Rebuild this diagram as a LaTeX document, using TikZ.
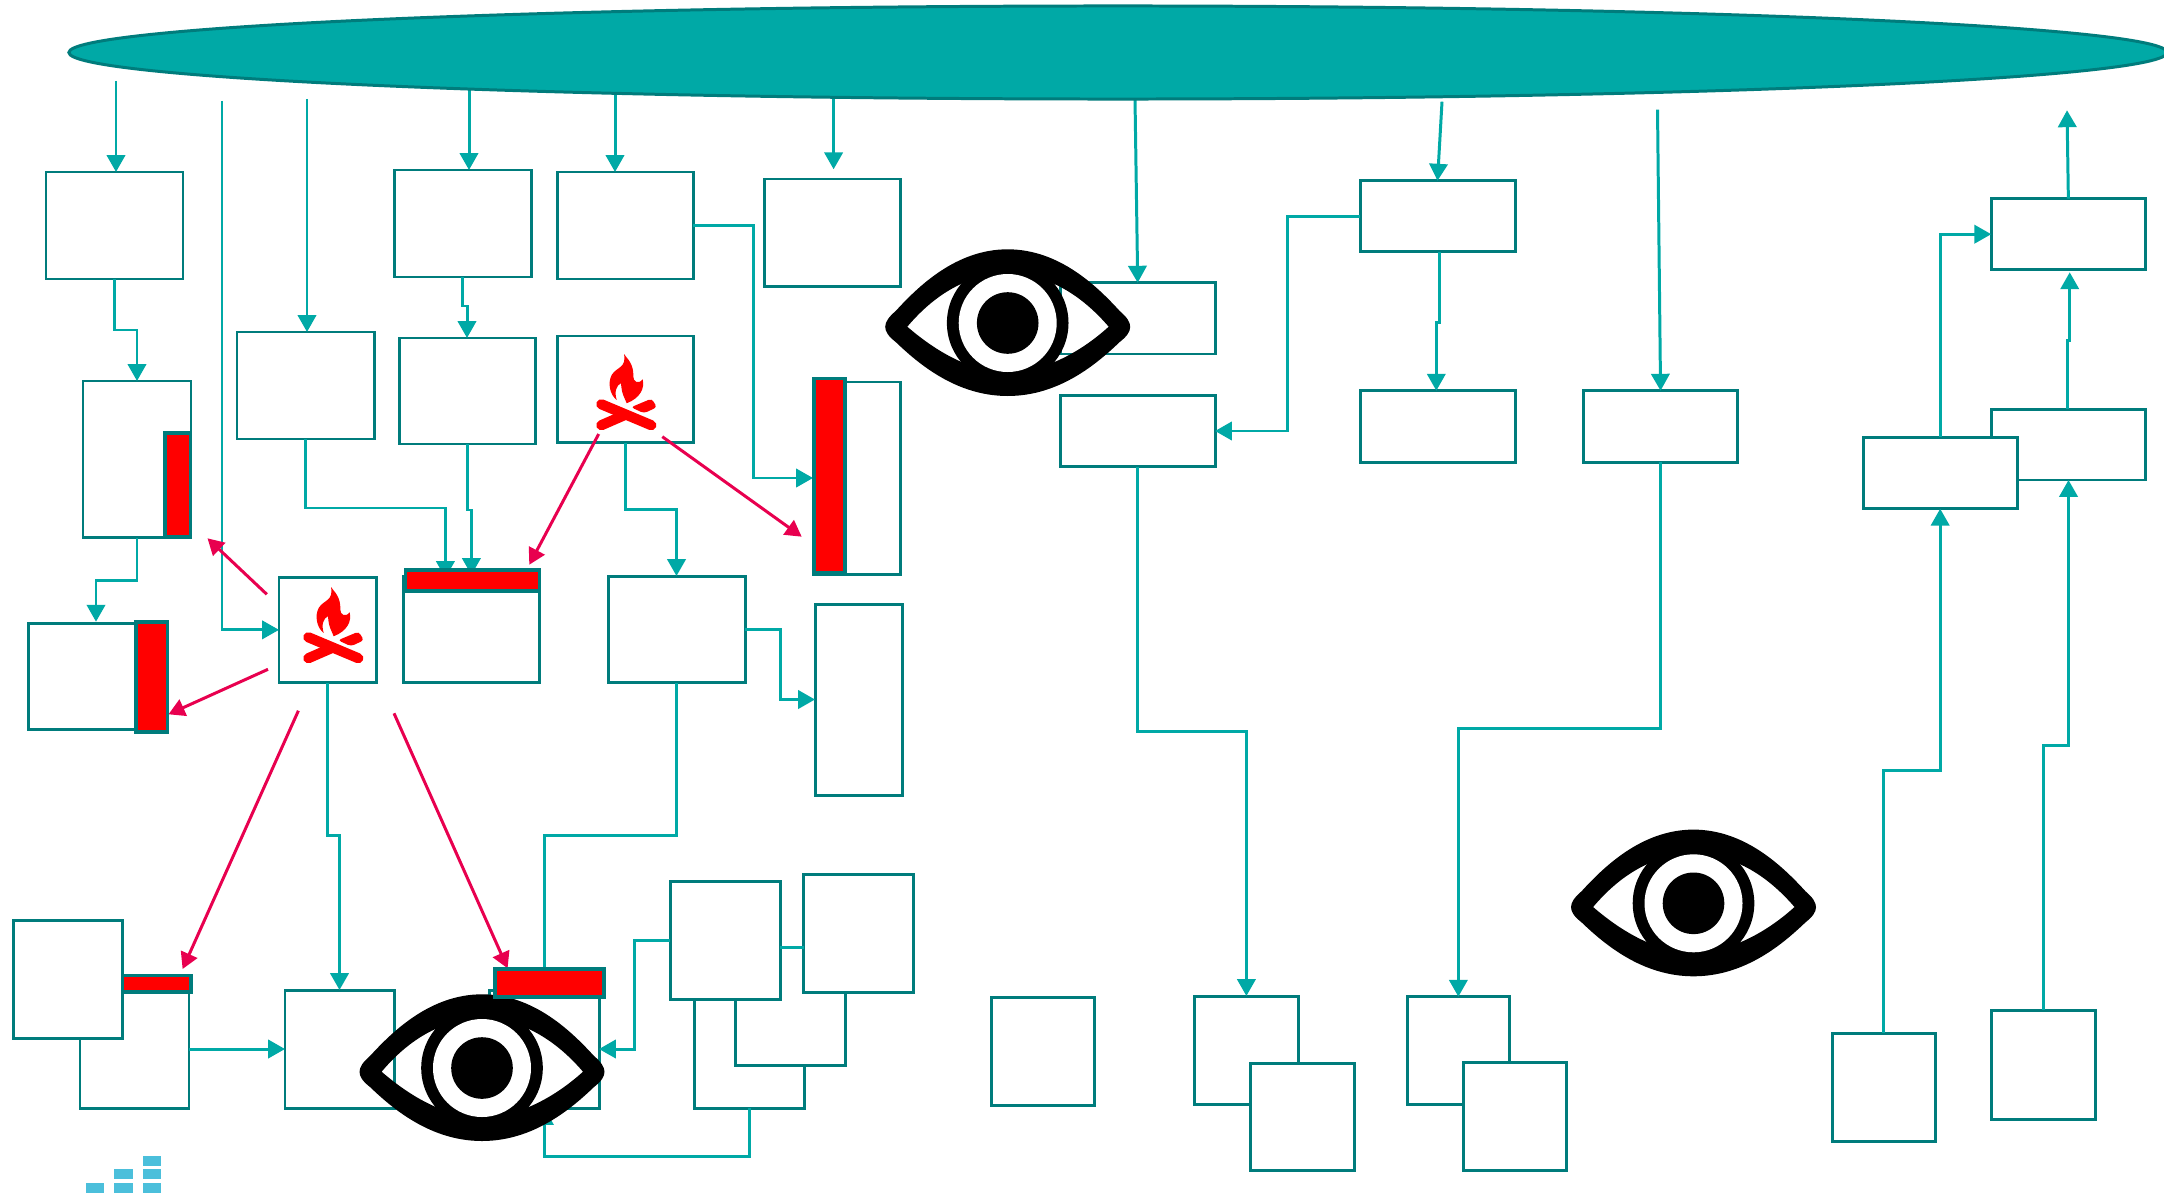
\documentclass[tikz,border=0pt]{standalone}
\usetikzlibrary{arrows.meta,shapes.geometric}
\definecolor{tline}{HTML}{00A9A6}
\definecolor{tborder}{HTML}{007C7C}
\definecolor{pinkline}{HTML}{E8004F}
\definecolor{barblue}{HTML}{4BBFDB}
\definecolor{firered}{HTML}{FF0000}
\tikzset{
  boxn/.style={draw=tborder,fill=white,line width=0.85pt,rectangle,inner sep=0pt,outer sep=0pt},
  redn/.style={draw=tborder,fill=firered,line width=0.95pt,rectangle,inner sep=0pt,outer sep=0pt},
  conn/.style={draw=tline,line width=0.85pt,-{Triangle[length=4.8pt,width=5.2pt]}},
  plain/.style={draw=tline,line width=0.85pt},
  hot/.style={draw=pinkline,line width=0.85pt,-{Triangle[length=4.6pt,width=5pt]}},
}
\newcommand\bx[6][boxn]{\node[#1,minimum width={(#5-#3)*0.01cm},minimum height={(#6-#4)*0.01cm}] (#2) at ({(#3+#5)/2},{(#4+#6)/2}) {};}
\newcommand\eyeicon[2]{\begin{scope}[shift={(#1,#2)}]
  \fill[black,even odd rule]
    (-112,-12) .. controls (-90,-36) and (-52,-73.7) .. (0,-73.7)
    .. controls (52,-73.7) and (90,-36) .. (112,-12)
    .. controls (126,0) and (126,8) .. (112,19)
    .. controls (90,40) and (52,73) .. (0,73)
    .. controls (-52,73) and (-90,40) .. (-112,19)
    .. controls (-126,8) and (-126,0) .. (-112,-12) -- cycle
    (-100.4,3.7) .. controls (-72,-30) and (-38,-49.3) .. (0,-49.3)
    .. controls (38,-49.3) and (72,-30) .. (101,3.7)
    .. controls (72,30) and (35,49.3) .. (0,49.3)
    .. controls (-35,49.3) and (-70,30) .. (-100.4,3.7) -- cycle;
  \fill[black] (0,0) circle [radius=60.8];
  \fill[white] (0,0) circle [radius=49];
  \fill[black] (0,0) circle [radius=30.8];
\end{scope}}
\newcommand\fireicon[2]{\begin{scope}[shift={(#1,#2)},x=0.003333cm,y=-0.003333cm,shift={(-1122,-72)}]
  \fill[firered]
    (1122,72) .. controls (1130,85) and (1152,100) .. (1150,140)
    .. controls (1150,155) and (1165,165) .. (1178,148)
    .. controls (1185,175) and (1170,205) .. (1130,220)
    .. controls (1125,205) and (1115,195) .. (1113,160)
    .. controls (1100,165) and (1092,185) .. (1100,210)
    .. controls (1080,195) and (1072,160) .. (1085,135)
    .. controls (1100,110) and (1130,115) .. (1122,72) -- cycle;
  \draw[firered,line width=2.9pt,line cap=round] (1054,223) -- (1204,286);
  \draw[firered,line width=2.9pt,line cap=round] (1054,286) -- (1125,255);
  \fill[firered,rounded corners=0.9pt] (1143,232) -- (1205,206) -- (1221,232) -- (1182,250) -- cycle;
\end{scope}}
\begin{document}
\begin{tikzpicture}[x=0.01cm,y=-0.01cm]
\clip (0,0) rectangle (2164,1197);
\fill[white] (0,0) rectangle (2164,1197);
% boxes
\bx{A}{46}{172}{183}{279}
\bx{B}{394.4}{170}{531}{277}
\bx{C}{557}{172}{693}{279}
\bx{AB}{764.7}{179}{900.6}{286.7}
\bx{E}{83}{381}{191}{537.7}
\bx{F}{237}{332}{374}{439}
\bx{D}{399}{338}{535}{444}
\bx{G}{557}{336}{693}{442.7}
\bx{H}{28.5}{623}{137}{729}
\bx{I}{279}{577}{376}{682.7}
\bx{J}{403}{576}{539.7}{682.7}
\bx{K}{608}{576}{745}{682.7}
\bx{AF}{813}{382}{900.7}{574}
\bx{AG}{815}{604}{902}{795}
\bx{AC}{1060.4}{282.7}{1215}{354}
\bx{AD}{1060.7}{395.3}{1215}{466.7}
\bx{AH}{1360}{180.7}{1515}{251.7}
\bx{AI}{1360}{390.7}{1515}{462.3}
\bx{AJ}{1583.3}{390.7}{1737.8}{462.3}
\bx{AK}{1991.2}{198.7}{2145.5}{269.7}
\bx{AM}{1991.7}{409.3}{2145.3}{480}
\bx{AL}{1863}{437.3}{2017.3}{508.7}
\bx{O}{80}{990}{189}{1108}
\bx[redn]{rO}{122}{975.7}{191}{992}
\bx{N}{13.4}{920}{122.8}{1038.7}
\bx{L}{285}{990}{394}{1108}
\bx{M}{489.7}{990}{599}{1108}
\bx{Q}{694.8}{990}{804}{1108}
\bx{S}{735.7}{947}{845}{1065}
\bx{P}{670}{881.7}{780}{999.7}
\bx{R}{803.7}{874}{913.4}{992}
\bx{T}{991.4}{997.7}{1094.7}{1105.7}
\bx{U}{1194.8}{996}{1298}{1104}
\bx{V}{1250.8}{1063}{1354}{1170.7}
\bx{W}{1407}{996.7}{1509.7}{1104}
\bx{X}{1463}{1062.7}{1566}{1170.7}
\bx{Y}{1832}{1033}{1935}{1141}
\bx{Z}{1991.6}{1010}{2095}{1119}
% free ends
\coordinate (s1) at (116,81);
\coordinate (s2) at (222,101);
\coordinate (s3) at (307,99);
\coordinate (s4) at (469,88);
\coordinate (s5) at (615,92);
\coordinate (s6) at (833.6,97);
\coordinate (e6) at (833.6,169.3);
\coordinate (s7) at (1135,99);
\coordinate (s8) at (1442,101.7);
\coordinate (s9) at (1657.5,109.7);
\coordinate (upend) at (2067,110.3);
\coordinate (hin) at (96,621.7);
\coordinate (jin1) at (445.4,578);
\coordinate (jin2) at (471.4,575);
\coordinate (ahs) at (1439,251.7);
\coordinate (aie) at (1436.3,390.7);
\coordinate (ams) at (2067.2,409.3);
\coordinate (ake) at (2069.7,272.3);
\coordinate (prline) at (790,947);
% connectors
\draw[conn] (s1) -- (s1 |- A.north);
\draw[conn] (s2) |- (I.west);
\draw[conn] (s3) -- (s3 |- F.north);
\draw[conn] (s4) -- (s4 |- B.north);
\draw[conn] (s5) -- (s5 |- C.north);
\draw[conn] (s6) -- (e6);
\draw[conn] (s7) -- (AC.north);
\draw[conn] (s8) -- (AH.north);
\draw[conn] (s9) -- (AJ.north);
\draw[conn] (AK.north) -- (upend);
\draw[conn] (A.south) -- ++(0,51) -| (E.north);
\draw[conn] (E.south) -- ++(0,42.3) -| (hin);
\draw[conn] (B.south) -- ++(0,29) -| (D.north);
\draw[conn] (F.south) -- ++(0,69) -| (jin1);
\draw[conn] (D.south) -- ++(0,66) -| (jin2);
\draw[conn] (G.south) -- ++(0,67) -| (K.north);
\draw[conn] (C.east) -- ++(60.3,0) |- (AF.west);
\draw[conn] (K.east) -- ++(35,0) |- (AG.west);
\draw[conn] (I.south) -- ++(0,152.3) -| (L.north);
\draw[plain] (K.south) -- ++(0,152.3) -| (M.north);
\draw[conn] (O.east) -- (L.west);
\draw[conn] (P.west) -- ++(-35.5,0) |- (M.east);
\draw[plain] (P.east |- prline) -- (R.west |- prline);
\draw[conn] (Q.south) -- ++(0,48) -| (M.south);
\draw[conn] (AH.west) -- ++(-72.7,0) |- (AD.east);
\draw[conn] (ahs) -- ++(0,71) -| (aie);
\draw[conn] (AD.south) -- ++(0,265) -| (U.north);
\draw[conn] (AJ.south) -- ++(0,266.3) -| (W.north);
\draw[conn] (Y.north) -- ++(0,-262.3) -| (AL.south);
\draw[conn] (Z.north) -- ++(0,-264.7) -| (AM.south);
\draw[conn] (AL.north) |- (AK.west);
\draw[conn] (ams) -- ++(0,-68.6) -| (ake);
% hot arrows
\coordinate (h1a) at (266.8,594.3); \coordinate (h1b) at (207.5,538.3);
\coordinate (h2a) at (268,669.3);   \coordinate (h2b) at (168.5,714.3);
\coordinate (h3a) at (298.4,710.7); \coordinate (h3b) at (182.6,969);
\coordinate (h4a) at (394,713.3);   \coordinate (h4b) at (507.6,968.3);
\coordinate (h5a) at (598.7,434);   \coordinate (h5b) at (529.3,564.7);
\coordinate (h6a) at (662.3,436.7); \coordinate (h6b) at (801.7,536.7);
\draw[hot] (h1a) -- (h1b);
\draw[hot] (h2a) -- (h2b);
\draw[hot] (h3a) -- (h3b);
\draw[hot] (h4a) -- (h4b);
\draw[hot] (h5a) -- (h5b);
\draw[hot] (h6a) -- (h6b);
% top ellipse
\node[ellipse,draw=tborder,fill=tline,line width=0.85pt,inner sep=0pt,outer sep=0pt,minimum width=20.97cm,minimum height=0.93cm] (sky) at (1118,52.5) {};
% red bars
\bx[redn]{rE}{165}{433}{190.5}{537}
\bx[redn]{rH}{136}{622}{167.6}{732}
\bx[redn]{rJ}{405.7}{570}{539.5}{591}
\bx[redn]{rF}{814}{378.3}{845}{573}
% icons
\fireicon{624}{354}
\fireicon{331}{587}
\eyeicon{1007.7}{323}
\eyeicon{482}{1068}
\eyeicon{1693.5}{903.3}
\bx[redn]{rM}{495}{969}{604}{997}
% small bars
\fill[barblue] (86,1183) rectangle (103.6,1192.7);
\fill[barblue] (114.3,1169.3) rectangle (132.6,1179.3);
\fill[barblue] (114.3,1183) rectangle (132.6,1192.7);
\fill[barblue] (143.3,1156) rectangle (161,1165.7);
\fill[barblue] (143.3,1169.3) rectangle (161,1179.3);
\fill[barblue] (143.3,1183) rectangle (161,1192.7);
\end{tikzpicture}
\end{document}
